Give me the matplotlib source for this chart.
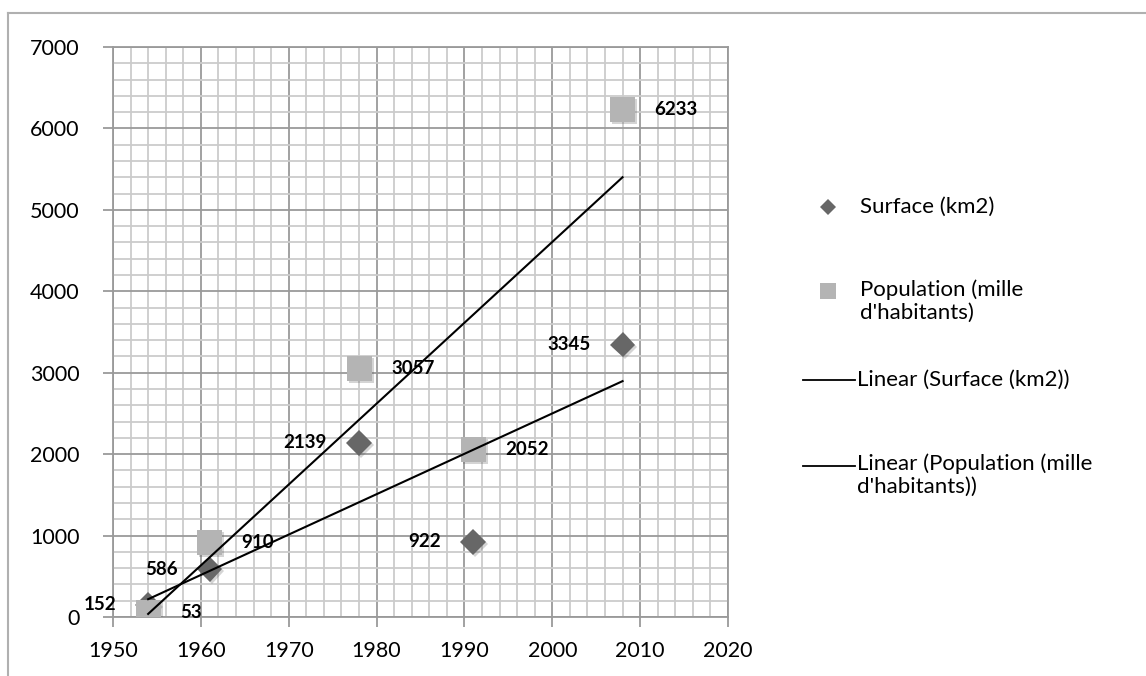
import numpy as np
import matplotlib
matplotlib.use("Agg")
import matplotlib.pyplot as plt
import matplotlib.patheffects as pe
from matplotlib.lines import Line2D
from matplotlib.ticker import MultipleLocator

plt.rcParams['font.family'] = ['Lato', 'DejaVu Sans']

years = [1954, 1961, 1978, 1991, 2008]
surface = [152, 586, 2139, 922, 3345]
population = [53, 910, 3057, 2052, 6233]

surface_label = 'Surface (km2)'
population_label = "Population (mille\nd'habitants)"
trend_surface_label = 'Linear (Surface (km2))'
trend_population_label = "Linear (Population (mille\nd'habitants))"

dark = '#676767'
light = '#b4b4b4'
major_grid = '#9a9a9a'
minor_grid = '#cbcbcb'

fig = plt.figure(figsize=(11.46, 6.76), dpi=100)
ax = fig.add_axes([113 / 1146, 1 - 617 / 676, (728 - 113) / 1146, (617 - 47) / 676])

ax.set_xlim(1950, 2020)
ax.set_ylim(0, 7000)
ax.xaxis.set_major_locator(MultipleLocator(10))
ax.xaxis.set_minor_locator(MultipleLocator(2))
ax.yaxis.set_major_locator(MultipleLocator(1000))
ax.yaxis.set_minor_locator(MultipleLocator(200))
ax.grid(which='minor', color=minor_grid, linewidth=1.3, zorder=0)
ax.grid(which='major', color=major_grid, linewidth=1.3, zorder=0)
ax.set_axisbelow(True)
for s in ax.spines.values():
    s.set_color(major_grid)
    s.set_linewidth(1.3)
ax.tick_params(which='minor', length=0)
ax.tick_params(which='major', length=7, color=major_grid, width=1.3, labelsize=15.5)
ax.tick_params(axis='x', pad=10)
ax.tick_params(axis='y', pad=17)

shadow = [pe.SimplePatchShadow(offset=(1.5, -1.5), alpha=0.25, shadow_rgbFace='#555555'), pe.Normal()]

# trend lines (least squares fit over the data range)
x = np.array(years)
for vals in (surface, population):
    k, b = np.polyfit(x, vals, 1)
    xs = np.array([x.min(), x.max()])
    ax.plot(xs, k * xs + b, color='black', linewidth=1.5, zorder=4)

ax.plot(years, surface, linestyle='none', marker='D', markersize=13, color=dark,
        markeredgewidth=0, zorder=3, path_effects=shadow)
ax.plot(years, population, linestyle='none', marker='s', markersize=18, color=light,
        markeredgewidth=0, zorder=3, path_effects=shadow)

for xv, yv in zip(years, surface):
    ax.annotate(str(yv), (xv, yv), xytext=(-23, 0), textcoords='offset points',
                ha='right', va='center', fontsize=13.5, fontweight='bold', zorder=5)
for xv, yv in zip(years, population):
    ax.annotate(str(yv), (xv, yv), xytext=(23, 0), textcoords='offset points',
                ha='left', va='center', fontsize=13.5, fontweight='bold', zorder=5)

# legend drawn by hand to match the layout
def fx(px):
    return px / 1146

def fy(py):
    return 1 - py / 676

fig.add_artist(Line2D([fx(828)], [fy(207)], marker='D', markersize=8, color=dark,
                      markeredgewidth=0, transform=fig.transFigure))
fig.add_artist(Line2D([fx(828)], [fy(291)], marker='s', markersize=12, color=light,
                      markeredgewidth=0, transform=fig.transFigure))
fig.add_artist(Line2D([fx(803), fx(855)], [fy(380), fy(380)], color='black',
                      linewidth=1.3, transform=fig.transFigure))
fig.add_artist(Line2D([fx(803), fx(855)], [fy(466), fy(466)], color='black',
                      linewidth=1.3, transform=fig.transFigure))
fs = 16
fig.text(fx(860), fy(207), surface_label, fontsize=fs, va='center')
fig.text(fx(860), fy(279), population_label, fontsize=fs, va='top', linespacing=1.2)
fig.text(fx(857), fy(380), trend_surface_label, fontsize=fs, va='center')
fig.text(fx(857), fy(453), trend_population_label, fontsize=fs, va='top', linespacing=1.2)

# outer chart frame
fig.add_artist(Line2D([fx(8), 1], [fy(13), fy(13)], color='#b0b0b0', linewidth=1.5,
                      transform=fig.transFigure))
fig.add_artist(Line2D([fx(8), fx(8)], [fy(13), 0], color='#b0b0b0', linewidth=1.5,
                      transform=fig.transFigure))

fig.savefig('out.png', dpi=100)
